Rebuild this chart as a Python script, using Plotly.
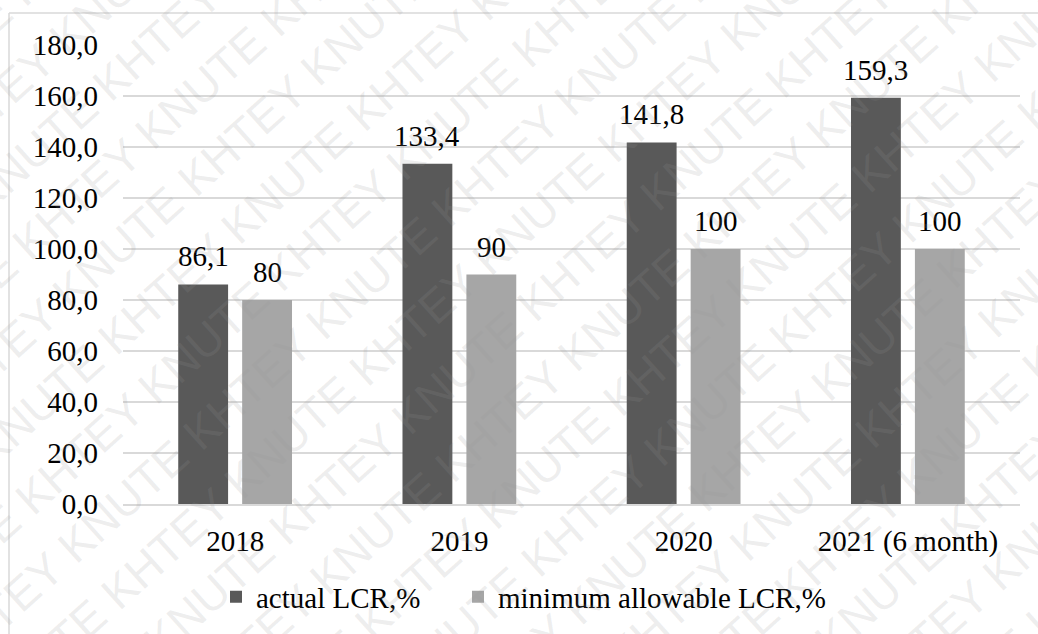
import math
import plotly.graph_objects as go

# LCR by year
years = ["2018", "2019", "2020", "2021 (6 month)"]
actual_lcr = [86.1, 133.4, 141.8, 159.3]
minimum_lcr = [80, 90, 100, 100]

actual_labels = [f"{v:.1f}".replace(".", ",") for v in actual_lcr]
minimum_labels = [f"{v:g}" for v in minimum_lcr]

W, H = 1038, 634
ML, MR, MT, MB = 123, 18, 45, 130
PW, PH = W - ML - MR, H - MT - MB

SERIF = "Liberation Serif, Times New Roman, serif"
FS = 29
DARK = "#595959"
LIGHT = "#a6a6a6"
GRID = "#d9d9d9"


def px_x(x):
    return (x - ML) / PW


def px_y(y):
    return (H - MB - y) / PH


fig = go.Figure()
fig.add_trace(go.Bar(name="actual LCR,%", x=years, y=actual_lcr,
                     marker=dict(color=DARK, line=dict(width=0)),
                     legend="legend"))
fig.add_trace(go.Bar(name="minimum allowable LCR,%", x=years, y=minimum_lcr,
                     marker=dict(color=LIGHT, line=dict(width=0)),
                     legend="legend2"))

annotations = []
# value labels above each bar (x given as category index, since the
# year names look numeric to the annotation parser)
for i, (v, t) in enumerate(zip(actual_lcr, actual_labels)):
    annotations.append(dict(x=i, y=v, text=t, xshift=-32, yshift=10,
                            showarrow=False, yanchor="bottom",
                            font=dict(family=SERIF, size=FS, color="black")))
for i, (v, t) in enumerate(zip(minimum_lcr, minimum_labels)):
    annotations.append(dict(x=i, y=v, text=t, xshift=32, yshift=10,
                            showarrow=False, yanchor="bottom",
                            font=dict(family=SERIF, size=FS, color="black")))

# diagonal watermark rows
ang = 42.0
ux, uy = math.sin(math.radians(ang)), math.cos(math.radians(ang))
for k in range(-11, 12):
    cx = W / 2 + k * 64 * ux
    cy = H / 2 + k * 64 * uy
    word = "KNUTE KHTEY " if k % 2 == 0 else "KHTEY KNUTE "
    annotations.append(dict(x=px_x(cx), y=px_y(cy), xref="paper", yref="paper",
                            text=(word * 5).strip(),
                            textangle=-ang, showarrow=False,
                            xanchor="center", yanchor="middle",
                            font=dict(family="Liberation Sans, Arial, sans-serif",
                                      size=46, color="rgba(150,150,150,0.17)")))

shapes = [
    # chart frame
    dict(type="line", xref="paper", yref="paper",
         x0=px_x(9), x1=px_x(9), y0=px_y(13), y1=px_y(H + 10),
         line=dict(color=GRID, width=1.5)),
    dict(type="line", xref="paper", yref="paper",
         x0=px_x(9), x1=px_x(W + 10), y0=px_y(13), y1=px_y(13),
         line=dict(color=GRID, width=1.5)),
]

legend_common = dict(orientation="h", xanchor="left", yanchor="middle",
                     y=px_y(597), bgcolor="rgba(0,0,0,0)",
                     font=dict(family=SERIF, size=FS, color="black"))

fig.update_layout(
    width=W, height=H,
    margin=dict(l=ML, r=MR, t=MT, b=MB),
    paper_bgcolor="white", plot_bgcolor="white",
    barmode="group", bargap=0.43, bargroupgap=0.22,
    separators=", ",
    font=dict(family=SERIF, size=FS, color="black"),
    showlegend=True,
    legend=dict(x=px_x(216), **legend_common),
    legend2=dict(x=px_x(458), **legend_common),
    annotations=annotations,
    shapes=shapes,
)
fig.update_xaxes(type="category", categoryorder="array", categoryarray=years,
                 range=[-0.5, len(years) - 0.5],
                 showgrid=False, showline=True,
                 linecolor=GRID, linewidth=1.5,
                 ticks="", ticklabelstandoff=10,
                 tickfont=dict(family=SERIF, size=FS, color="black"))
fig.update_yaxes(range=[0, 180], dtick=20, tickformat=".1f",
                 showgrid=True, gridcolor=GRID, gridwidth=1.5,
                 zeroline=False, showline=False, ticks="", ticklabelstandoff=24,
                 tickfont=dict(family=SERIF, size=FS, color="black"))

fig.write_html("out.html")
